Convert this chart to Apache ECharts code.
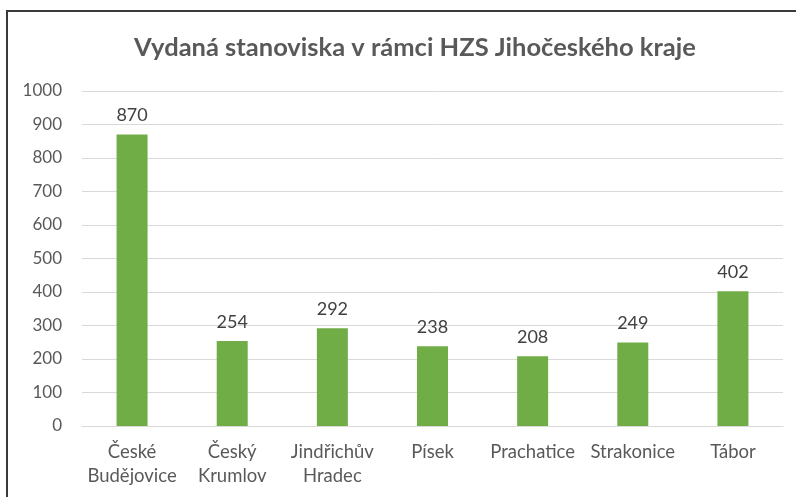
<!DOCTYPE html>
<html>
<head>
<meta charset="utf-8">
<script src="https://cdn.jsdelivr.net/npm/echarts@6/dist/echarts.min.js"></script>
<style>
  html, body { margin: 0; padding: 0; background: #fff; }
  #chart { position: absolute; left: 0; top: 0; width: 796px; height: 497px; }
  #frame {
    position: absolute; left: 6px; top: 10px; width: 800px; height: 500px;
    border-top: 2px solid #3a3a3a; border-left: 2px solid #3a3a3a;
    pointer-events: none;
  }
</style>
</head>
<body>
<div id="chart"></div>
<div id="frame"></div>
<script>
const titleText = "Vydaná stanoviska v rámci HZS Jihočeského kraje";
const districts = [
  "České\nBudějovice",
  "Český\nKrumlov",
  "Jindřichův\nHradec",
  "Písek",
  "Prachatice",
  "Strakonice",
  "Tábor",
];
const stanoviska = [870, 254, 292, 238, 208, 249, 402];

const FONT = "Lato, 'Open Sans', sans-serif";
const TEXT_COLOR = "#595959";

const chart = echarts.init(document.getElementById("chart"), null, { renderer: "canvas" });

chart.setOption({
  animation: false,
  title: {
    text: titleText,
    left: 129,
    top: 30,
    textStyle: {
      fontFamily: FONT,
      fontSize: 25.5,
      fontWeight: "bold",
      color: TEXT_COLOR,
    },
  },
  grid: {
    left: 82,
    right: 13,
    top: 91,
    bottom: 71,
  },
  xAxis: {
    type: "category",
    data: districts,
    axisTick: { show: false },
    axisLine: { lineStyle: { color: "#d9d9d9", width: 1 } },
    axisLabel: {
      color: TEXT_COLOR,
      fontFamily: FONT,
      fontSize: 18.5,
      lineHeight: 24,
      margin: 14,
      interval: 0,
    },
  },
  yAxis: {
    type: "value",
    min: 0,
    max: 1000,
    interval: 100,
    axisLine: { show: false },
    axisTick: { show: false },
    splitLine: { lineStyle: { color: "#d9d9d9", width: 1 } },
    axisLabel: {
      color: TEXT_COLOR,
      fontFamily: FONT,
      fontSize: 17,
      margin: 20,
      formatter: (value) => String(value),
    },
  },
  series: [
    {
      type: "bar",
      data: stanoviska,
      barWidth: 31,
      itemStyle: { color: "#70ad47" },
      label: {
        show: true,
        position: "top",
        distance: 10,
        color: "#404040",
        fontFamily: FONT,
        fontSize: 18,
      },
    },
  ],
});
</script>
</body>
</html>
